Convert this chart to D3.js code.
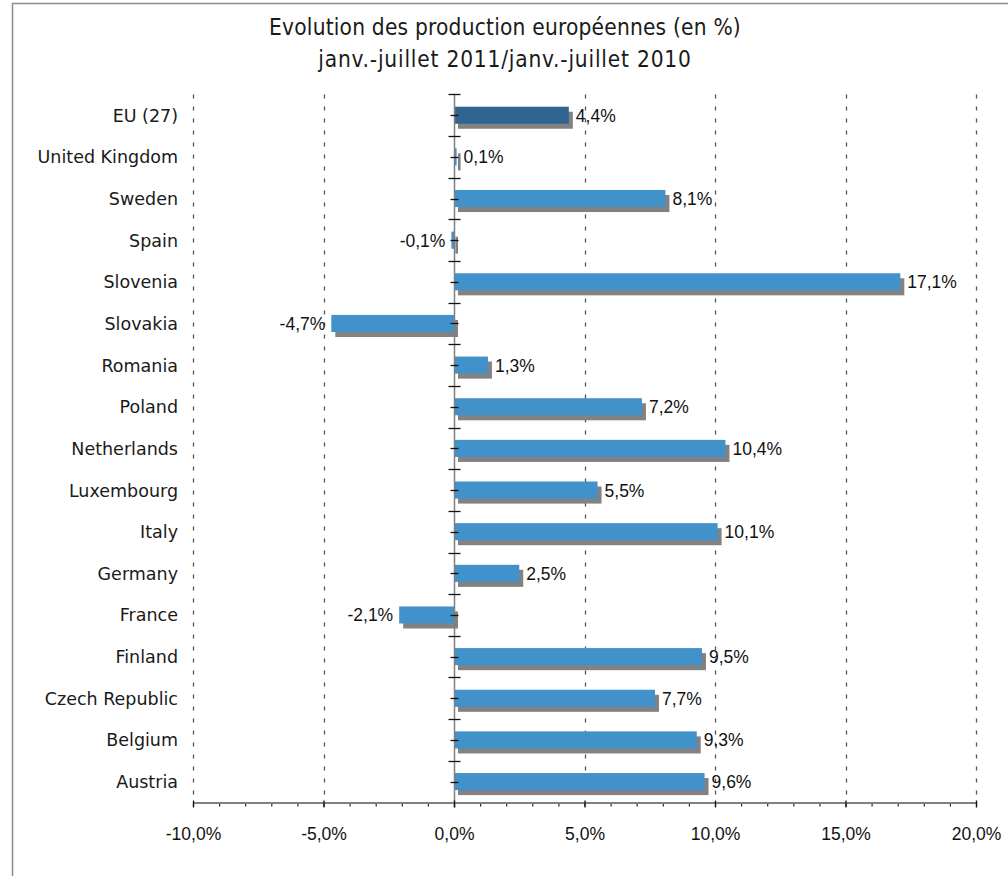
<!DOCTYPE html>
<html>
<head>
<meta charset="utf-8">
<script src="https://cdn.jsdelivr.net/npm/d3@7"></script>
<style>
  html, body { margin: 0; padding: 0; background: #fff; }
  svg { display: block; }
</style>
</head>
<body>
<svg id="chart" width="1008" height="876"></svg>
<script>
// ---- Data ----
const titleLines = ["Evolution des production européennes (en %)", "janv.-juillet 2011/janv.-juillet 2010"];
const categories = ["EU (27)", "United Kingdom", "Sweden", "Spain", "Slovenia", "Slovakia", "Romania", "Poland", "Netherlands", "Luxembourg", "Italy", "Germany", "France", "Finland", "Czech Republic", "Belgium", "Austria"];
const values = [4.4, 0.1, 8.1, -0.1, 17.1, -4.7, 1.3, 7.2, 10.4, 5.5, 10.1, 2.5, -2.1, 9.5, 7.7, 9.3, 9.6];
const xTicks = [-10, -5, 0, 5, 10, 15, 20];
const xMinorTicks = d3.range(-10, 21, 1);

const locale = d3.formatLocale({decimal: ",", thousands: " ", grouping: [3], currency: ["", "€"], minus: "-"});
const fmt1 = v => locale.format(".1f")(v) + "%";

const svg = d3.select("#chart");

// frame
svg.append("path")
  .attr("d", "M12.5,880 L12.5,3.5 L1012,3.5")
  .attr("fill", "none").attr("stroke", "#8c8c8c").attr("stroke-width", 1.5);

// title
const title = svg.append("text")
  .attr("text-anchor", "middle")
  .attr("font-family", "'DejaVu Sans Condensed', 'DejaVu Sans', sans-serif")
  .attr("font-size", 22.5)
  .attr("fill", "#1a1a1a");
const titleSpacing = [0.2, 0.8];
titleLines.forEach((t, i) => {
  title.append("tspan").attr("x", 505).attr("y", 35 + i * 32)
    .attr("letter-spacing", titleSpacing[i]).text(t);
});

const x = d3.scaleLinear().domain([-10, 20]).range([193, 976]);
const y = d3.scaleBand().domain(categories).range([94.4, 802.4]).padding(0);
const barH = y.bandwidth() * 0.41;
const axisY = 802.4;

// gridlines (dashed)
svg.append("g").selectAll("line")
  .data(xTicks.filter(d => d !== 0))
  .join("line")
  .attr("x1", d => Math.round(x(d)) + 0.5).attr("x2", d => Math.round(x(d)) + 0.5)
  .attr("y1", y.range()[0]).attr("y2", axisY)
  .attr("stroke", "#555").attr("stroke-width", 1.3)
  .attr("stroke-dasharray", "4,8");

// shadows
const data = categories.map((c, i) => ({c, v: values[i]}));
svg.append("g").selectAll("rect")
  .data(data)
  .join("rect")
  .attr("x", d => Math.min(x(0), x(d.v)) + 4)
  .attr("y", d => y(d.c) + (y.bandwidth() - barH) / 2 + 5)
  .attr("width", d => Math.abs(x(d.v) - x(0)))
  .attr("height", barH)
  .attr("fill", "#828282");

// bars
svg.append("g").selectAll("rect")
  .data(data)
  .join("rect")
  .attr("x", d => Math.min(x(0), x(d.v)))
  .attr("y", d => y(d.c) + (y.bandwidth() - barH) / 2)
  .attr("width", d => Math.abs(x(d.v) - x(0)))
  .attr("height", barH)
  .attr("fill", d => d.c === "EU (27)" ? "#2F6490" : "#4191CB");

// value labels
svg.append("g").selectAll("text")
  .data(data)
  .join("text")
  .attr("x", d => d.v >= 0 ? x(d.v) + 7 : x(d.v) - 6)
  .attr("y", d => y(d.c) + y.bandwidth() / 2 + 6.5)
  .attr("text-anchor", d => d.v >= 0 ? "start" : "end")
  .attr("font-family", "'Liberation Sans', Arial, sans-serif")
  .attr("font-size", 17.5)
  .attr("fill", "#111")
  .text(d => fmt1(d.v));

// vertical axis at 0
const x0 = Math.round(x(0)) + 0.5;
svg.append("line")
  .attr("x1", x0).attr("x2", x0)
  .attr("y1", y.range()[0]).attr("y2", axisY + 5)
  .attr("stroke", "#808080").attr("stroke-width", 1.5);

// boundary ticks
const bounds = categories.map(c => y(c));
svg.append("g").selectAll("line")
  .data(bounds)
  .join("line")
  .attr("x1", x0 - 6).attr("x2", x0 + 6)
  .attr("y1", d => Math.round(d) + 0.5).attr("y2", d => Math.round(d) + 0.5)
  .attr("stroke", "#111").attr("stroke-width", 1.3);
// center ticks
svg.append("g").selectAll("line")
  .data(categories)
  .join("line")
  .attr("x1", x0 - 4).attr("x2", x0 + 4)
  .attr("y1", d => Math.round(y(d) + y.bandwidth() / 2) + 0.5)
  .attr("y2", d => Math.round(y(d) + y.bandwidth() / 2) + 0.5)
  .attr("stroke", "#111").attr("stroke-width", 1.3);

// category labels
svg.append("g").selectAll("text")
  .data(categories)
  .join("text")
  .attr("x", 178)
  .attr("y", d => y(d) + y.bandwidth() / 2 + 6.5)
  .attr("text-anchor", "end")
  .attr("font-family", "'DejaVu Sans', sans-serif")
  .attr("font-size", 17.5)
  .attr("fill", "#1a1a1a")
  .text(d => d);

// x axis: minor ticks
const minorAxis = d3.axisBottom(x).tickValues(xMinorTicks).tickSize(4).tickFormat("");
const gMinor = svg.append("g").attr("transform", `translate(0,${Math.round(axisY) + 0.5})`).call(minorAxis);
gMinor.select(".domain").remove();
gMinor.selectAll("line").attr("stroke", "#222").attr("stroke-width", 1.2);

// x axis: major
const majorAxis = d3.axisBottom(x).tickValues(xTicks).tickSizeInner(5).tickSizeOuter(0).tickPadding(20)
  .tickFormat(d => fmt1(d));
const gMajor = svg.append("g").attr("transform", `translate(0,${Math.round(axisY) + 0.5})`).call(majorAxis);
gMajor.select(".domain").attr("stroke", "#808080").attr("stroke-width", 2);
gMajor.selectAll(".tick line").attr("y1", -2).attr("stroke", "#111").attr("stroke-width", 1.3);
gMajor.selectAll(".tick text")
  .attr("font-family", "'Liberation Sans', Arial, sans-serif")
  .attr("font-size", 17.5)
  .attr("fill", "#111");
</script>
</body>
</html>
